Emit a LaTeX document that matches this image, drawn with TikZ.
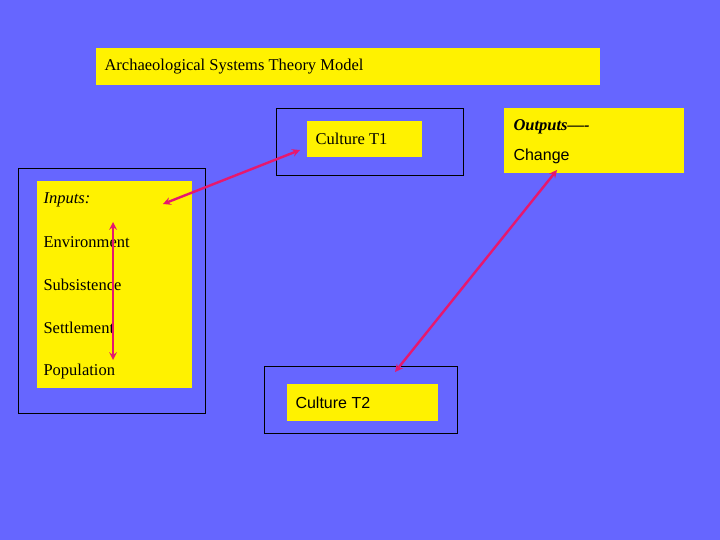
\documentclass[tikz,border=0pt]{standalone}
\usepackage{fontspec}
\setmainfont{Liberation Serif}
\setsansfont{Liberation Sans}
\definecolor{slidebg}{RGB}{102,102,255}
\definecolor{linkred}{RGB}{230,24,110}
\begin{document}
\begin{tikzpicture}[x=1pt,y=-1pt,
    ybox/.style={fill=yellow,inner sep=0pt,anchor=north west},
    frame/.style={draw=black,line width=0.6pt},
    link/.style={draw=linkred,line width=2.4pt,<->,>=stealth}]
     \fill[slidebg] (0,0) rectangle (720,540);
     \useasboundingbox (0,0) rectangle (720,540);

     \node[ybox,minimum width=504pt,minimum height=37pt] (title) at (96,48) {};
     \node[anchor=west,font=\fontsize{16.5}{18}\selectfont] at (101,67) {Archaeological Systems Theory Model};

     \draw[frame] (276,108) rectangle (463,175);
     \node[ybox,minimum width=115pt,minimum height=36pt] (t1) at (307,121) {};
     \node[anchor=west,font=\fontsize{16.5}{18}\selectfont] at (312,139) {Culture T1};

     \node[ybox,minimum width=180pt,minimum height=65pt] (out) at (504,108) {};
     \node[anchor=west,font=\fontsize{16.5}{18}\selectfont\bfseries\itshape] at (510,127) {Outputs----};
     \node[anchor=west,font=\sffamily\fontsize{16}{18}\selectfont] at (510,156) {Change};

     \draw[frame] (18,168) rectangle (205,413);
     \node[ybox,minimum width=155pt,minimum height=207pt] (in) at (37,181) {};
     \node[anchor=west,font=\fontsize{16.5}{18}\selectfont\itshape] at (40,200) {Inputs:};
     \foreach \y/\t in {242/Environment,285/Subsistence,328/Settlement,372/Population}
       \node[anchor=west,font=\fontsize{16.5}{18}\selectfont] at (40,\y) {\t};

     \draw[frame] (264,366) rectangle (457,433);
     \node[ybox,minimum width=151pt,minimum height=37pt] (t2) at (287,384) {};
     \node[anchor=west,font=\sffamily\fontsize{16}{18}\selectfont] at (292,403) {Culture T2};

     \coordinate (a1) at (163,204);
     \coordinate (a2) at (300,150);
     \coordinate (b1) at (113,222);
     \coordinate (b2) at (113,360);
     \coordinate (c1) at (557,170);
     \coordinate (c2) at (395,372);
     \draw[link] (a1) -- (a2);
     \draw[link] (b1) -- (b2);
     \draw[link] (c1) -- (c2);
\end{tikzpicture}
\end{document}
